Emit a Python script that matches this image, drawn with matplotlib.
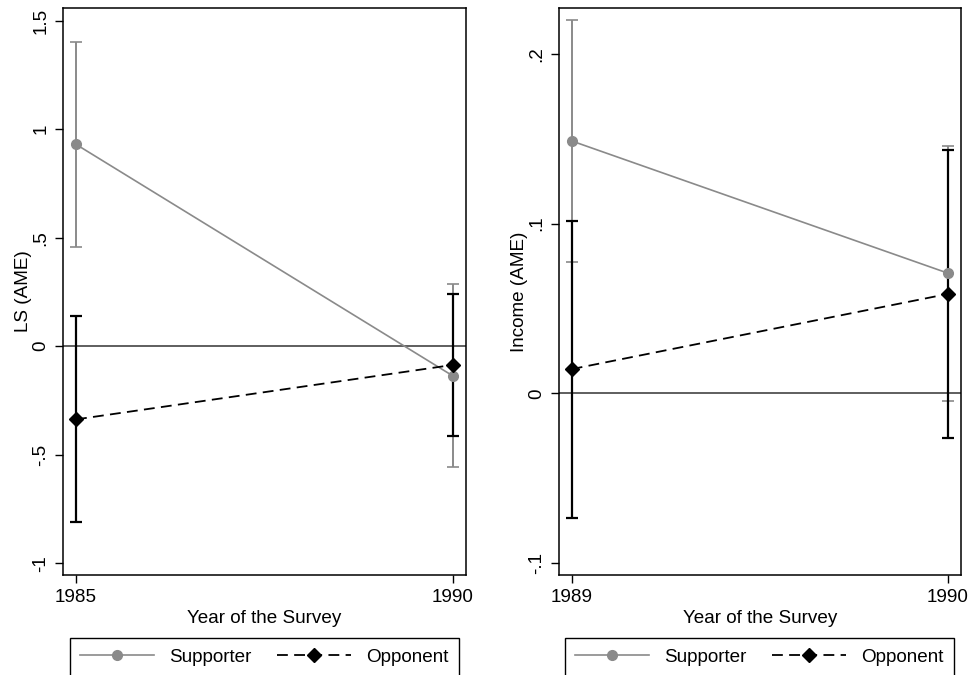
import numpy as np
import matplotlib
matplotlib.use("Agg")
import matplotlib.pyplot as plt

plt.rcParams['font.family'] = ['Liberation Sans', 'DejaVu Sans']

# ── Data ──────────────────────────────────────────────────────────────────────
years_ls      = [1985, 1990]
sup_ls        = [0.93, -0.137]
sup_ls_lo     = [0.457, -0.555]
sup_ls_hi     = [1.40, 0.285]
opp_ls        = [-0.337, -0.086]
opp_ls_lo     = [-0.811, -0.413]
opp_ls_hi     = [0.138, 0.239]

years_inc     = [1989, 1990]
sup_inc       = [0.1487, 0.0708]
sup_inc_lo    = [0.0776, -0.0044]
sup_inc_hi    = [0.2198, 0.1455]
opp_inc       = [0.0143, 0.0586]
opp_inc_lo    = [-0.0734, -0.0265]
opp_inc_hi    = [0.1018, 0.1435]

ls_yticks     = [-1, -0.5, 0, 0.5, 1, 1.5]
ls_ylabels    = ['-1', '-.5', '0', '.5', '1', '1.5']
inc_yticks    = [-0.1, 0, 0.1, 0.2]
inc_ylabels   = ['-.1', '0', '.1', '.2']

GRAY = '#8a8a8a'
FS = 13.6

fig = plt.figure(figsize=(9.71, 6.75), dpi=100, facecolor='white')


def panel(rect, years, sup, sup_lo, sup_hi, opp, opp_lo, opp_hi,
          yticks, ylabels, ylim, ylabel):
    ax = fig.add_axes(rect)
    ax.axhline(0, color='#333333', lw=1.1, zorder=1)

    sup, opp = np.array(sup), np.array(opp)
    ax.errorbar(years, sup, yerr=[sup - np.array(sup_lo), np.array(sup_hi) - sup],
                fmt='none', ecolor=GRAY, elinewidth=1.4, capsize=4.5, capthick=1.2, zorder=2)
    ax.errorbar(years, opp, yerr=[opp - np.array(opp_lo), np.array(opp_hi) - opp],
                fmt='none', ecolor='black', elinewidth=1.6, capsize=4.5, capthick=1.6, zorder=3)

    ax.plot(years, sup, color=GRAY, lw=1.2, marker='o', ms=7, mec=GRAY, mfc=GRAY,
            label='Supporter', zorder=4)
    ax.plot(years, opp, color='black', lw=1.3, ls=(0, (6, 3.5)), marker='D', ms=7,
            mec='black', mfc='black', label='Opponent', zorder=5)

    pad = (years[1] - years[0]) * 0.0345
    ax.set_xlim(years[0] - pad, years[1] + pad)
    ax.set_ylim(*ylim)
    ax.set_xticks(years)
    ax.set_xticklabels([str(y) for y in years], fontsize=FS)
    ax.set_yticks(yticks)
    ax.set_yticklabels(ylabels, fontsize=FS, rotation=90, va='center')
    ax.tick_params(direction='out', length=6, width=1, pad=4)
    ax.set_xlabel('Year of the Survey', fontsize=FS, labelpad=3)
    ax.set_ylabel(ylabel, fontsize=FS, labelpad=0)
    for s in ax.spines.values():
        s.set_linewidth(1.1)
    return ax


ax1 = panel([0.0649, 0.1481, 0.4150, 0.8400], years_ls,
            sup_ls, sup_ls_lo, sup_ls_hi, opp_ls, opp_ls_lo, opp_ls_hi,
            ls_yticks, ls_ylabels, (-1.054, 1.558), 'LS (AME)')
ax2 = panel([0.5754, 0.1481, 0.4143, 0.8400], years_inc,
            sup_inc, sup_inc_lo, sup_inc_hi, opp_inc, opp_inc_lo, opp_inc_hi,
            inc_yticks, inc_ylabels, (-0.107, 0.227), 'Income (AME)')

# legends below each panel, box top at ~638 px
for ax, x0, x1 in [(ax1, 70, 459), (ax2, 565, 954)]:
    leg = ax.legend(loc='upper left', ncol=2, mode='expand', fontsize=FS,
                    bbox_to_anchor=(x0 / 971, 1 - 638 / 675, (x1 - x0) / 971, 0.0),
                    bbox_transform=fig.transFigure, numpoints=1,
                    handlelength=3.9, fancybox=False, framealpha=1,
                    borderaxespad=0, borderpad=0.55, columnspacing=1.5)
    leg.get_frame().set_edgecolor('black')
    leg.get_frame().set_linewidth(1.0)

fig.savefig('out.png', dpi=100)
